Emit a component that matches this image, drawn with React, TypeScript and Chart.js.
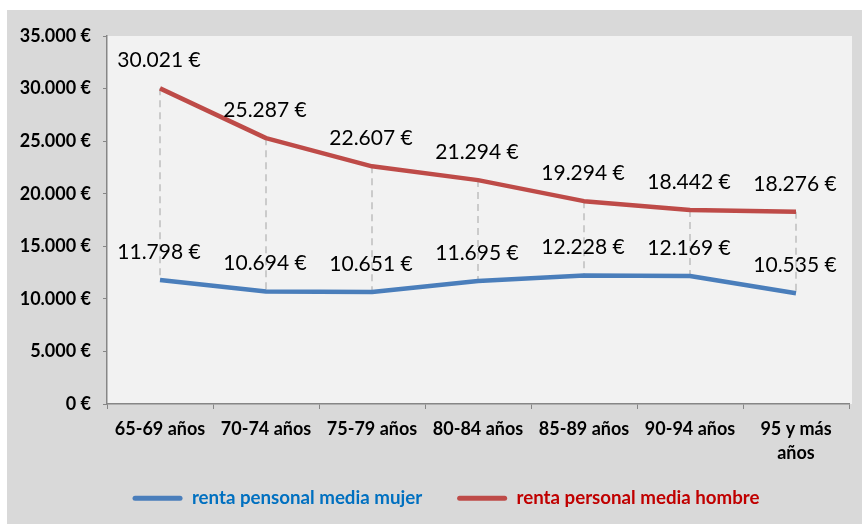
import React, { useEffect, useRef } from 'react';
import { Chart, registerables } from 'chart.js';

Chart.register(...registerables);

const categories: (string | string[])[] = [
  '65-69 años',
  '70-74 años',
  '75-79 años',
  '80-84 años',
  '85-89 años',
  '90-94 años',
  ['95 y más', 'años'],
];
const rentaMujer = [11798, 10694, 10651, 11695, 12228, 12169, 10535];
const rentaHombre = [30021, 25287, 22607, 21294, 19294, 18442, 18276];
const seriesNames = ['renta pensonal media mujer', 'renta personal media hombre'];
const lineColors = ['#4a7ebb', '#be4b48'];
const legendTextColors = ['#0070c0', '#c00000'];
const yMin = 0;
const yMax = 35000;
const yStep = 5000;

const FONT = 'Lato, "Open Sans", sans-serif';

const fmt = (v: number) =>
  String(Math.round(v)).replace(/\B(?=(\d{3})+(?!\d))/g, '.') + ' €';

const bgPlugin = {
  id: 'plotBg',
  beforeDraw(chart: any) {
    const { ctx, chartArea } = chart;
    ctx.save();
    ctx.fillStyle = '#f2f2f2';
    ctx.fillRect(chartArea.left, chartArea.top, chartArea.right - chartArea.left + 3, chartArea.bottom - chartArea.top);
    ctx.restore();
  },
};

const hiLowPlugin = {
  id: 'hiLow',
  beforeDatasetsDraw(chart: any) {
    const { ctx } = chart;
    const a = chart.getDatasetMeta(0).data;
    const b = chart.getDatasetMeta(1).data;
    ctx.save();
    ctx.strokeStyle = '#bfbfbf';
    ctx.lineWidth = 1.5;
    ctx.setLineDash([7, 5]);
    for (let i = 0; i < a.length; i++) {
      ctx.beginPath();
      ctx.moveTo(b[i].x, b[i].y);
      ctx.lineTo(a[i].x, a[i].y);
      ctx.stroke();
    }
    ctx.restore();
  },
};

const labelPlugin = {
  id: 'valueLabels',
  afterDatasetsDraw(chart: any) {
    const { ctx } = chart;
    ctx.save();
    ctx.font = `21px ${FONT}`;
    ctx.fillStyle = '#000';
    ctx.textAlign = 'center';
    ctx.textBaseline = 'middle';
    chart.data.datasets.forEach((ds: any, di: number) => {
      const meta = chart.getDatasetMeta(di);
      meta.data.forEach((pt: any, i: number) => {
        ctx.fillText(fmt(ds.data[i]), pt.x - 1, pt.y - 28);
      });
    });
    ctx.restore();
  },
};

const legendLayoutPlugin = {
  id: 'legendLayout',
  beforeLayout(chart: any) {
    const legend = chart.legend;
    if (legend && !legend.__patched) {
      const orig = legend.fit;
      legend.fit = function () {
        orig.call(this);
        this.height = 56;
      };
      legend.__patched = true;
    }
  },
  afterLayout(chart: any) {
    const legend = chart.legend;
    if (legend) {
      legend.left += 18;
      legend.right += 18;
      legend.top -= 14;
    }
  },
};

export default function App() {
  const ref = useRef<HTMLCanvasElement | null>(null);

  useEffect(() => {
    if (!ref.current) return;
    const chart = new Chart(ref.current, {
      type: 'line',
      data: {
        labels: categories as any,
        datasets: [
          {
            label: seriesNames[0],
            data: rentaMujer,
            borderColor: lineColors[0],
            backgroundColor: lineColors[0],
            borderWidth: 4.5,
            pointRadius: 0,
            tension: 0,
            borderJoinStyle: 'round',
          },
          {
            label: seriesNames[1],
            data: rentaHombre,
            borderColor: lineColors[1],
            backgroundColor: lineColors[1],
            borderWidth: 4.5,
            pointRadius: 0,
            tension: 0,
            borderJoinStyle: 'round',
          },
        ],
      },
      options: {
        responsive: false,
        animation: false,
        events: [],
        layout: { padding: { top: 26, right: 13, left: 0, bottom: 0 } },
        plugins: {
          tooltip: { enabled: false },
          legend: {
            display: true,
            position: 'bottom',
            labels: {
              boxWidth: 50,
              boxHeight: 5,
              padding: 35,
              useBorderRadius: true,
              borderRadius: 2.5,
              font: { family: FONT, size: 18.7, weight: 'bold' },
              generateLabels: (chart: any) =>
                chart.data.datasets.map((ds: any, i: number) => ({
                  text: ds.label,
                  fillStyle: lineColors[i],
                  strokeStyle: lineColors[i],
                  lineWidth: 0,
                  fontColor: legendTextColors[i],
                  borderRadius: 2.5,
                  hidden: false,
                  datasetIndex: i,
                })),
            },
          },
        },
        scales: {
          x: {
            offset: true,
            grid: {
              offset: true,
              drawOnChartArea: false,
              drawTicks: true,
              tickLength: 5,
              color: '#868686',
            },
            border: { display: true, color: '#868686', width: 1.5 },
            ticks: {
              color: '#000',
              padding: 8,
              maxRotation: 0,
              autoSkip: false,
              font: { family: FONT, size: 18, weight: 'bold', lineHeight: 1.33 },
            },
            afterFit: (s: any) => {
              s.height = 64;
            },
          },
          y: {
            min: yMin,
            max: yMax,
            grid: {
              drawOnChartArea: false,
              drawTicks: true,
              tickLength: 4,
              color: '#868686',
            },
            border: { display: true, color: '#868686', width: 1.5 },
            ticks: {
              stepSize: yStep,
              color: '#000',
              padding: 12,
              font: { family: FONT, size: 18, weight: 'bold' },
              callback: (v: any) => fmt(Number(v)),
            },
            afterFit: (s: any) => {
              s.width = 100;
            },
          },
        },
      },
      plugins: [bgPlugin, hiLowPlugin, labelPlugin, legendLayoutPlugin],
    } as any);
    return () => chart.destroy();
  }, []);

  return (
    <div style={{ position: 'fixed', left: 0, top: 0, width: 862, height: 524, background: '#fff' }}>
      <canvas
        ref={ref}
        width={855}
        height={514}
        style={{ position: 'absolute', left: 7, top: 10, width: 855, height: 514, background: '#d9d9d9', display: 'block' }}
      />
    </div>
  );
}
